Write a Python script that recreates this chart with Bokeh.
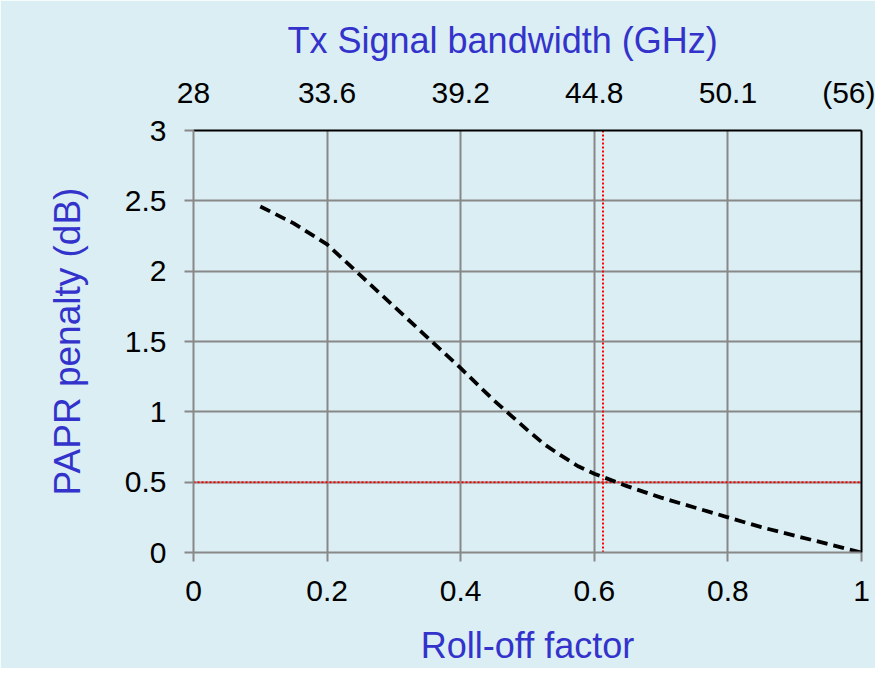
from bokeh.plotting import figure
from bokeh.models import Range1d, LinearAxis, FixedTicker, Span
from bokeh.embed import file_html
from bokeh.resources import INLINE

# ---- data ----
roll_off = [0.1, 0.15, 0.2, 0.25, 0.3, 0.35, 0.4, 0.45, 0.5, 0.525, 0.55,
            0.575, 0.6, 0.65, 0.7, 0.75, 0.8, 0.85, 0.9, 0.95, 1.0]
papr_penalty = [2.46, 2.34, 2.19, 1.97, 1.75, 1.53, 1.31, 1.08, 0.87, 0.77, 0.69,
                0.615, 0.56, 0.47, 0.39, 0.32, 0.25, 0.18, 0.12, 0.06, 0.0]

rolloff_ticks = [0, 0.2, 0.4, 0.6, 0.8, 1.0]
rolloff_labels = ["0", "0.2", "0.4", "0.6", "0.8", "1"]
bandwidth_labels = ["28", "33.6", "39.2", "44.8", "50.1", "(56)"]
papr_ticks = [0, 0.5, 1, 1.5, 2, 2.5, 3]
papr_labels = ["0", "0.5", "1", "1.5", "2", "2.5", "3"]

papr_limit = 0.5
rolloff_at_limit = 0.613

# ---- styles ----
BG = "#DAEEF3"
GRID = "#888888"
LABEL_BLUE = "#3333CC"
FONT = "Liberation Sans"
TICK_SIZE = "30px"
LABEL_SIZE = "36px"

p = figure(frame_width=668, frame_height=422,
           x_range=Range1d(0, 1), y_range=Range1d(0, 3),
           output_backend="svg", toolbar_location=None,
           background_fill_color=BG, border_fill_color=BG,
           min_border_left=193, min_border_right=14,
           min_border_top=130, min_border_bottom=111,
           outline_line_color=None)

# title (top axis label)
p.title.text = "Tx Signal bandwidth (GHz)"
p.title.text_font = FONT
p.title.text_font_size = LABEL_SIZE
p.title.text_font_style = "normal"
p.title.text_color = LABEL_BLUE
p.title.align = "left"
p.title.offset = 94
p.title.standoff = 24

# bottom axis
xa = p.xaxis[0]
xa.ticker = FixedTicker(ticks=rolloff_ticks)
xa.major_label_overrides = dict(zip(rolloff_ticks, rolloff_labels))
xa.axis_label = "Roll-off factor"
# left axis
ya = p.yaxis[0]
ya.ticker = FixedTicker(ticks=papr_ticks)
ya.major_label_overrides = dict(zip(papr_ticks, papr_labels))
ya.axis_label = "PAPR penalty (dB)"

for ax in (xa, ya):
    ax.axis_line_color = GRID
    ax.axis_line_width = 2
    ax.major_tick_line_color = GRID
    ax.major_tick_line_width = 2
    ax.major_tick_out = 9
    ax.major_tick_in = 0
    ax.minor_tick_line_color = None
    ax.major_label_text_font = FONT
    ax.major_label_text_font_size = TICK_SIZE
    ax.major_label_text_color = "black"
    ax.axis_label_text_font = FONT
    ax.axis_label_text_font_style = "normal"
    ax.axis_label_text_color = LABEL_BLUE

xa.axis_label_text_font_size = LABEL_SIZE
ya.axis_label_text_font_size = "37px"
xa.major_label_standoff = 19
xa.axis_label_standoff = 21
ya.major_label_standoff = 18
ya.axis_label_standoff = 34

# top axis: bandwidth labels
top = LinearAxis(ticker=FixedTicker(ticks=rolloff_ticks),
                 major_label_overrides=dict(zip(rolloff_ticks, bandwidth_labels)),
                 axis_line_color="black", axis_line_width=2,
                 major_tick_out=0, major_tick_in=0,
                 minor_tick_line_color=None, major_tick_line_color=None,
                 major_label_standoff=22,
                 major_label_text_font=FONT, major_label_text_font_size=TICK_SIZE,
                 major_label_text_color="black")
p.add_layout(top, "above")

# right border
right = LinearAxis(ticker=FixedTicker(ticks=[]),
                   axis_line_color="black", axis_line_width=2,
                   major_tick_out=0, major_tick_in=0,
                   minor_tick_line_color=None, major_tick_line_color=None,
                   major_label_text_font_size="0px", major_label_standoff=0)
p.add_layout(right, "right")

# grid
p.xgrid.grid_line_color = GRID
p.xgrid.grid_line_width = 2
p.ygrid.grid_line_color = GRID
p.ygrid.grid_line_width = 2

# red reference lines
p.add_layout(Span(location=rolloff_at_limit, dimension="height",
                  line_color="red", line_width=2, line_dash="2 2", level="underlay"))
p.add_layout(Span(location=papr_limit, dimension="width",
                  line_color="red", line_width=2, line_dash="2 2", level="underlay"))

# curve
p.line(roll_off, papr_penalty, line_color="black", line_width=3.8, line_dash="11 6")

open("out.html", "w").write(file_html(p, INLINE))
